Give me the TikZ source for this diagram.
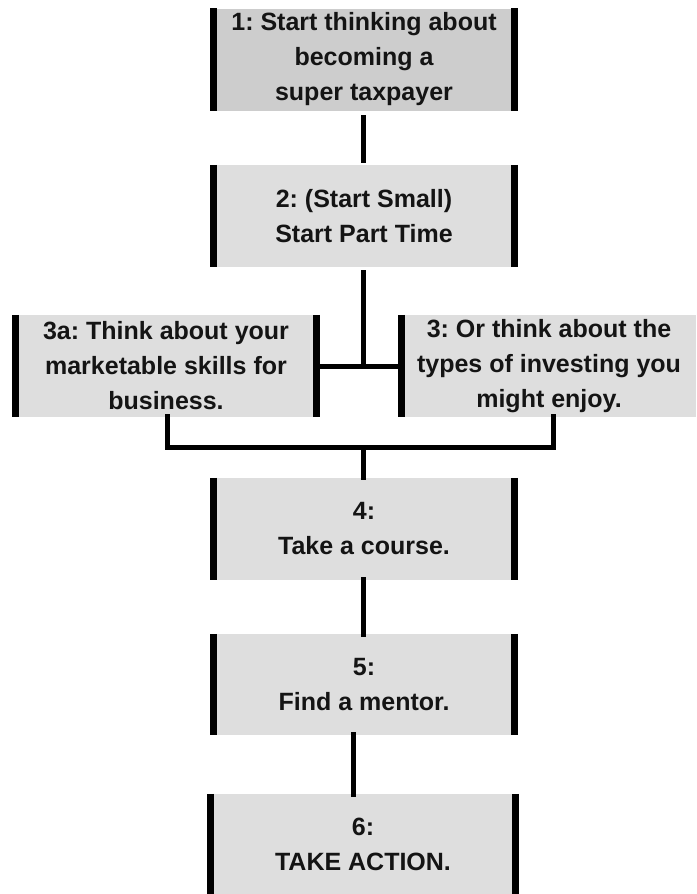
\documentclass[tikz,border=0pt]{standalone}
\usepackage{fontspec}
\setmainfont{Liberation Sans}
\frenchspacing
\begin{document}
\begin{tikzpicture}[x=1pt,y=-1pt,
  box/.style={rectangle,fill=boxgray,inner sep=0pt,minimum width=300pt,minimum height=102pt,
    align=center,font=\fontsize{25}{35}\selectfont\bfseries\frenchspacing,text=black!92},
  bar/.style={line width=7pt,black},
  link/.style={line width=5pt,black}]
\definecolor{boxgray}{HTML}{DEDEDE}
\definecolor{darkgray}{HTML}{CDCDCD}
\useasboundingbox (0,0) rectangle (696,894);
\node[box,fill=darkgray] (b1) at (364,59.5) {1: Start thinking about\\becoming a\\super taxpayer};
\node[box] (b2) at (364,216) {2: (Start Small)\\Start Part Time};
\node[box] (b3a) at (166,366) {3a: Think about your\\marketable skills for\\business.};
\node[box,minimum width=294pt] (b3) at (549,366) {3: Or think about the\\types of investing you\\might enjoy.};
\node[box] (b4) at (364,529) {4:\\Take a course.};
\node[box,minimum height=101pt] (b5) at (364,684.5) {5:\\Find a mentor.};
\node[box,minimum width=304pt,minimum height=100pt] (b6) at (363,844) {6:\\TAKE ACTION.};
\foreach \n in {b1,b2,b3a,b4,b5,b6}{
  \draw[bar] (\n.north west) -- (\n.south west);
  \draw[bar] (\n.north east) -- (\n.south east);
}
\draw[bar] (b3.north west) -- (b3.south west);
% connectors
\coordinate (j1) at (363,367);
\coordinate (j2) at (363,447);
\coordinate (l3a) at (167,447);
\coordinate (l3) at (553,447);
\draw[link] (363,115) -- (363,163);
\draw[link] (b2.south -| j1) ++(0,3) -- (j1);
\draw[link] (b3a.east) -- (b3.west);
\draw[link] ([yshift=3pt]b3a.south -| l3a) -- (l3a) -- (l3) -- ([yshift=3pt]b3.south -| l3);
\draw[link] (j2) -- ([yshift=-2pt]b4.north -| j2);
\draw[link] ([yshift=3pt]b4.south -| j2) -- ([yshift=-3pt]b5.north -| j2);
\draw[link] ([yshift=3pt]b5.south -| 353,0) -- ([yshift=-3pt]b6.north -| 353,0);
\end{tikzpicture}
\end{document}
